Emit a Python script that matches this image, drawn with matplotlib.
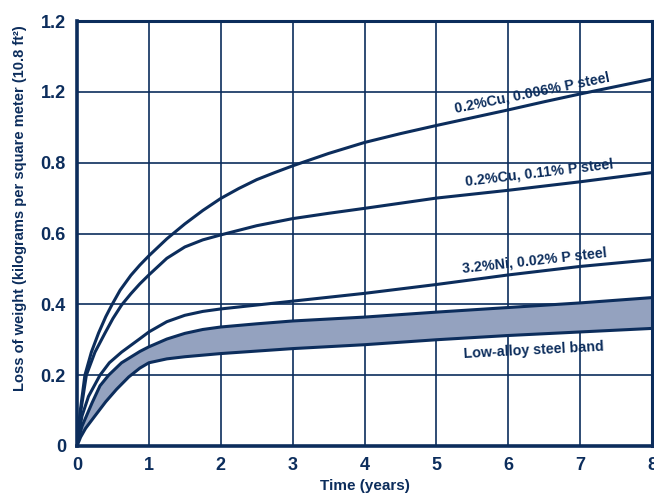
import matplotlib
matplotlib.use("Agg")
import matplotlib.pyplot as plt
import numpy as np

plt.rcParams['font.family'] = ['Liberation Sans', 'DejaVu Sans']

NAVY = "#0c2d5c"
BAND = "#94a2bf"

# Data (time in years, loss in kg/m^2)
t_cu006 = [0, 0.02, 0.046, 0.11, 0.2, 0.3, 0.4, 0.484, 0.6, 0.75, 0.875, 1.0, 1.25, 1.5, 1.75, 2.0,
           2.25, 2.5, 2.75, 3.0, 3.5, 4.0, 4.5, 5.0, 5.5, 6.0, 6.5, 7.0, 7.5, 8.0]
y_cu006 = [0, 0.05, 0.10, 0.20, 0.265, 0.319, 0.365, 0.398, 0.44, 0.482, 0.511, 0.537, 0.585, 0.627, 0.665, 0.699,
           0.727, 0.752, 0.772, 0.791, 0.826, 0.857, 0.882, 0.905, 0.927, 0.949, 0.972, 0.994, 1.015, 1.036]

t_cu011 = [0, 0.02, 0.05, 0.13, 0.25, 0.39, 0.5, 0.62, 0.75, 0.875, 1.0, 1.25, 1.5, 1.75, 2.0,
           2.5, 3.0, 3.5, 4.0, 5.0, 6.0, 7.0, 8.0]
y_cu011 = [0, 0.045, 0.095, 0.20, 0.265, 0.319, 0.36, 0.398, 0.43, 0.458, 0.483, 0.53, 0.562, 0.582, 0.596,
           0.622, 0.642, 0.657, 0.671, 0.70, 0.722, 0.746, 0.772]

t_ni = [0, 0.02, 0.07, 0.16, 0.32, 0.45, 0.62, 0.875, 1.0, 1.25, 1.5, 1.75, 2.0, 2.5, 3.0, 3.5,
        4.0, 5.0, 6.0, 7.0, 8.0]
y_ni = [0, 0.03, 0.085, 0.14, 0.20, 0.235, 0.265, 0.303, 0.322, 0.351, 0.369, 0.38, 0.387, 0.398, 0.409, 0.42,
        0.431, 0.456, 0.483, 0.507, 0.526]

t_band_hi = [0, 0.02, 0.07, 0.21, 0.32, 0.44, 0.62, 0.875, 1.0, 1.25, 1.5, 1.75, 2.0, 2.5, 3.0,
             4.0, 5.0, 6.0, 7.0, 8.0]
y_band_hi = [0, 0.02, 0.056, 0.122, 0.17, 0.20, 0.235, 0.267, 0.28, 0.302, 0.318, 0.329, 0.336, 0.345, 0.353,
             0.364, 0.378, 0.391, 0.404, 0.419]

t_band_lo = [0, 0.05, 0.12, 0.25, 0.4, 0.55, 0.72, 0.875, 1.0, 1.25, 1.5, 2.0, 2.5, 3.0,
             4.0, 5.0, 6.0, 7.0, 8.0]
y_band_lo = [0, 0.025, 0.05, 0.085, 0.125, 0.16, 0.195, 0.22, 0.235, 0.246, 0.252, 0.261, 0.268, 0.275,
             0.286, 0.300, 0.312, 0.322, 0.332]

x_ticks = [0, 1, 2, 3, 4, 5, 6, 7, 8]
y_ticks = [0, 0.2, 0.4, 0.6, 0.8, 1.0, 1.2]
y_tick_labels = ["0", "0.2", "0.4", "0.6", "0.8", "1.2", "1.2"]

labels = ["0.2%Cu, 0.006% P steel", "0.2%Cu, 0.11% P steel",
          "3.2%Ni, 0.02% P steel", "Low-alloy steel band"]
label_pos = [(6.33, 0.998, 11.5), (6.43, 0.772, 6.8), (6.36, 0.524, 6.3), (6.36, 0.269, 3.0)]

fig = plt.figure(figsize=(6.54, 4.93), dpi=100)
ax = fig.add_axes([77/654, 47/493, 575/654, 425/493])

t_fill = sorted(set(t_band_hi) | set(t_band_lo))
ax.fill_between(t_fill, np.interp(t_fill, t_band_lo, y_band_lo), np.interp(t_fill, t_band_hi, y_band_hi),
                color=BAND, lw=0, zorder=2)
for t, y in [(t_cu006, y_cu006), (t_cu011, y_cu011), (t_ni, y_ni),
             (t_band_hi, y_band_hi), (t_band_lo, y_band_lo)]:
    ax.plot(t, y, color=NAVY, lw=2.2, solid_joinstyle='round', solid_capstyle='round', zorder=3)

for (x, y, r), s in zip(label_pos, labels):
    ax.text(x, y, s, rotation=r, ha='center', va='center', fontsize=10.3,
            fontweight='bold', color=NAVY, zorder=4, rotation_mode='anchor')

ax.set_xlim(0, 8)
ax.set_ylim(0, 1.2)
ax.set_xticks(x_ticks)
ax.set_xticklabels([str(v) for v in x_ticks])
ax.set_yticks(y_ticks)
ax.set_yticklabels(y_tick_labels)
ax.grid(True, color=NAVY, lw=1.2, zorder=1)
ax.set_axisbelow(True)
ax.tick_params(length=0, pad=8, labelsize=13, labelcolor=NAVY)
for lab in ax.get_xticklabels() + ax.get_yticklabels():
    lab.set_fontweight('bold')
for side in ['left', 'bottom', 'top', 'right']:
    ax.spines[side].set_color(NAVY)
    ax.spines[side].set_linewidth(2.2)
ax.spines['left'].set_linewidth(2.6)
ax.spines['bottom'].set_linewidth(2.6)

fig.text(365/654, 1 - 486/493, "Time (years)", ha='center', va='center',
         fontsize=11, fontweight='bold', color=NAVY)
fig.text(20/654, 1 - 208/493, "Loss of weight (kilograms per square meter (10.8 ft²)",
         rotation=90, ha='center', va='center', fontsize=10.5, fontweight='bold', color=NAVY)

fig.savefig("out.png", dpi=100)
